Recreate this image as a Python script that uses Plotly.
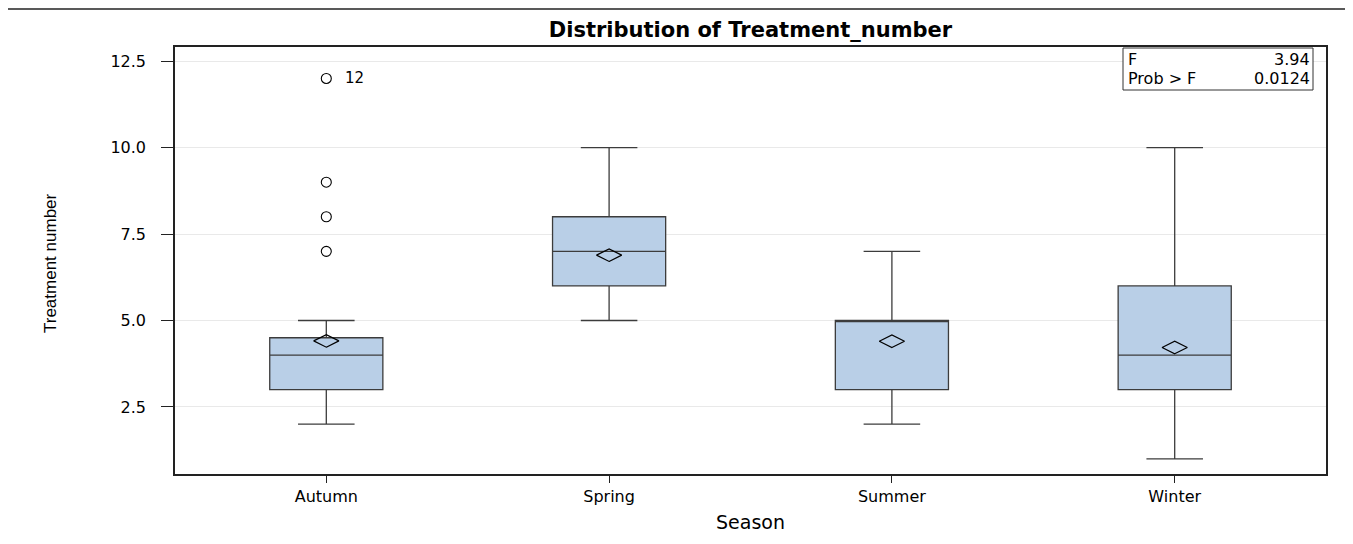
import plotly.graph_objects as go

# ---- data ----
seasons = ["Autumn", "Spring", "Summer", "Winter"]
q1 = [3, 6, 3, 3]
median = [4, 7, 5, 4]
q3 = [4.5, 8, 5, 6]
lower_whisker = [2, 5, 2, 1]
upper_whisker = [5, 10, 7, 10]
means = [4.41, 6.89, 4.40, 4.22]
outlier_season = ["Autumn", "Autumn", "Autumn", "Autumn"]
outlier_value = [7, 8, 9, 12]
outlier_label = ["", "", "", "12"]
stat_names = ["F", "Prob > F"]
stat_values = ["3.94", "0.0124"]
y_ticks = [2.5, 5.0, 7.5, 10.0, 12.5]

FONT = "DejaVu Sans, Liberation Sans, Arial, sans-serif"
BOX_FILL = "#B9CFE7"
BOX_LINE = "#3c3c3c"

# page body has an 8px default margin; plot area target (absolute px):
# left 175, right 1326, top 47, bottom 474
OFF = 8
W, H = 1353 - OFF, 544 - OFF
PL, PR, PT, PB = 175, 1326, 47, 474
PW, PH = PR - PL, PB - PT


def px(x):
    return (x - PL) / PW


def py(y):
    return (PB - y) / PH


fig = go.Figure()

fig.add_trace(go.Box(
    x=seasons, q1=q1, median=median, q3=q3,
    lowerfence=lower_whisker, upperfence=upper_whisker,
    boxpoints=False, width=0.4, whiskerwidth=0.5,
    fillcolor=BOX_FILL, line=dict(color=BOX_LINE, width=1.3),
    showlegend=False, hoverinfo="skip",
))

fig.add_trace(go.Scatter(
    x=seasons, y=means, mode="markers",
    marker=dict(symbol="diamond-wide-open", size=18, color="black",
                line=dict(color="black", width=1.2)),
    showlegend=False, hoverinfo="skip",
))

fig.add_trace(go.Scatter(
    x=outlier_season, y=outlier_value, mode="markers",
    marker=dict(symbol="circle-open", size=10, color="black",
                line=dict(color="black", width=1.1)),
    showlegend=False, hoverinfo="skip",
))

for s, v, lab in zip(outlier_season, outlier_value, outlier_label):
    if lab:
        fig.add_annotation(x=s, y=v, text=lab, xref="x", yref="y",
                           xanchor="left", yanchor="middle", xshift=17,
                           showarrow=False,
                           font=dict(family=FONT, size=15, color="black"))

fig.update_layout(
    width=W, height=H,
    margin=dict(l=PL - OFF, r=1353 - PR, t=PT - OFF, b=544 - PB),
    paper_bgcolor="white", plot_bgcolor="white",
    font=dict(family=FONT, color="black"),
    title=dict(text="<b>Distribution of Treatment_number</b>",
               x=((PL + PR) / 2 - OFF) / W, xanchor="center",
               y=1 - (30 - OFF) / H, yanchor="middle",
               font=dict(family=FONT, size=21, color="black")),
)

fig.update_xaxes(
    type="category", categoryorder="array", categoryarray=seasons,
    range=[-0.535, 3.535],
    showline=True, linecolor="#222", linewidth=1.5, mirror=True,
    ticks="outside", ticklen=7, tickcolor="#222",
    showgrid=False, zeroline=False,
    tickfont=dict(family=FONT, size=16, color="black"),
)
fig.update_yaxes(
    range=[0.56, 12.91],
    tickvals=y_ticks, ticktext=[f"{v:.1f}" for v in y_ticks],
    showline=True, linecolor="#222", linewidth=1.5, mirror=True,
    ticks="outside", ticklen=12, tickcolor="#222",
    ticklabelstandoff=12,
    showgrid=True, gridcolor="#e9e9e9", gridwidth=1, zeroline=False,
    tickfont=dict(family=FONT, size=16, color="black"),
)

# axis titles
fig.add_annotation(text="Treatment number", xref="paper", yref="paper",
                   x=px(50), y=py(263),
                   xanchor="center", yanchor="middle", textangle=-90,
                   showarrow=False,
                   font=dict(family="Liberation Sans, Arial, sans-serif",
                             size=17, color="black"))
fig.add_annotation(text="Season", xref="paper", yref="paper",
                   x=px(750), y=py(522),
                   xanchor="center", yanchor="middle", showarrow=False,
                   font=dict(family=FONT, size=19, color="black"))

# statistics inset box
fig.add_shape(type="rect", xref="paper", yref="paper",
              x0=px(1123), x1=px(1313), y0=py(90), y1=py(48),
              line=dict(color="#333", width=1), fillcolor="white", layer="above")
row_y = [py(59), py(79)]
for name, val, yy in zip(stat_names, stat_values, row_y):
    fig.add_annotation(text=name, xref="paper", yref="paper",
                       x=px(1126), y=yy, xanchor="left", yanchor="middle",
                       showarrow=False, font=dict(family=FONT, size=16, color="black"))
    fig.add_annotation(text=val, xref="paper", yref="paper",
                       x=px(1312), y=yy, xanchor="right", yanchor="middle",
                       showarrow=False, font=dict(family=FONT, size=16, color="black"))

# outer image frame (top and right edges)
fig.add_shape(type="line", xref="paper", yref="paper",
              x0=px(8), x1=px(1349), y0=py(9), y1=py(9),
              line=dict(color="#222", width=1.5))
fig.add_shape(type="line", xref="paper", yref="paper",
              x0=px(1349), x1=px(1349), y0=py(560), y1=py(9),
              line=dict(color="#888", width=2))

fig.write_html("out.html")
